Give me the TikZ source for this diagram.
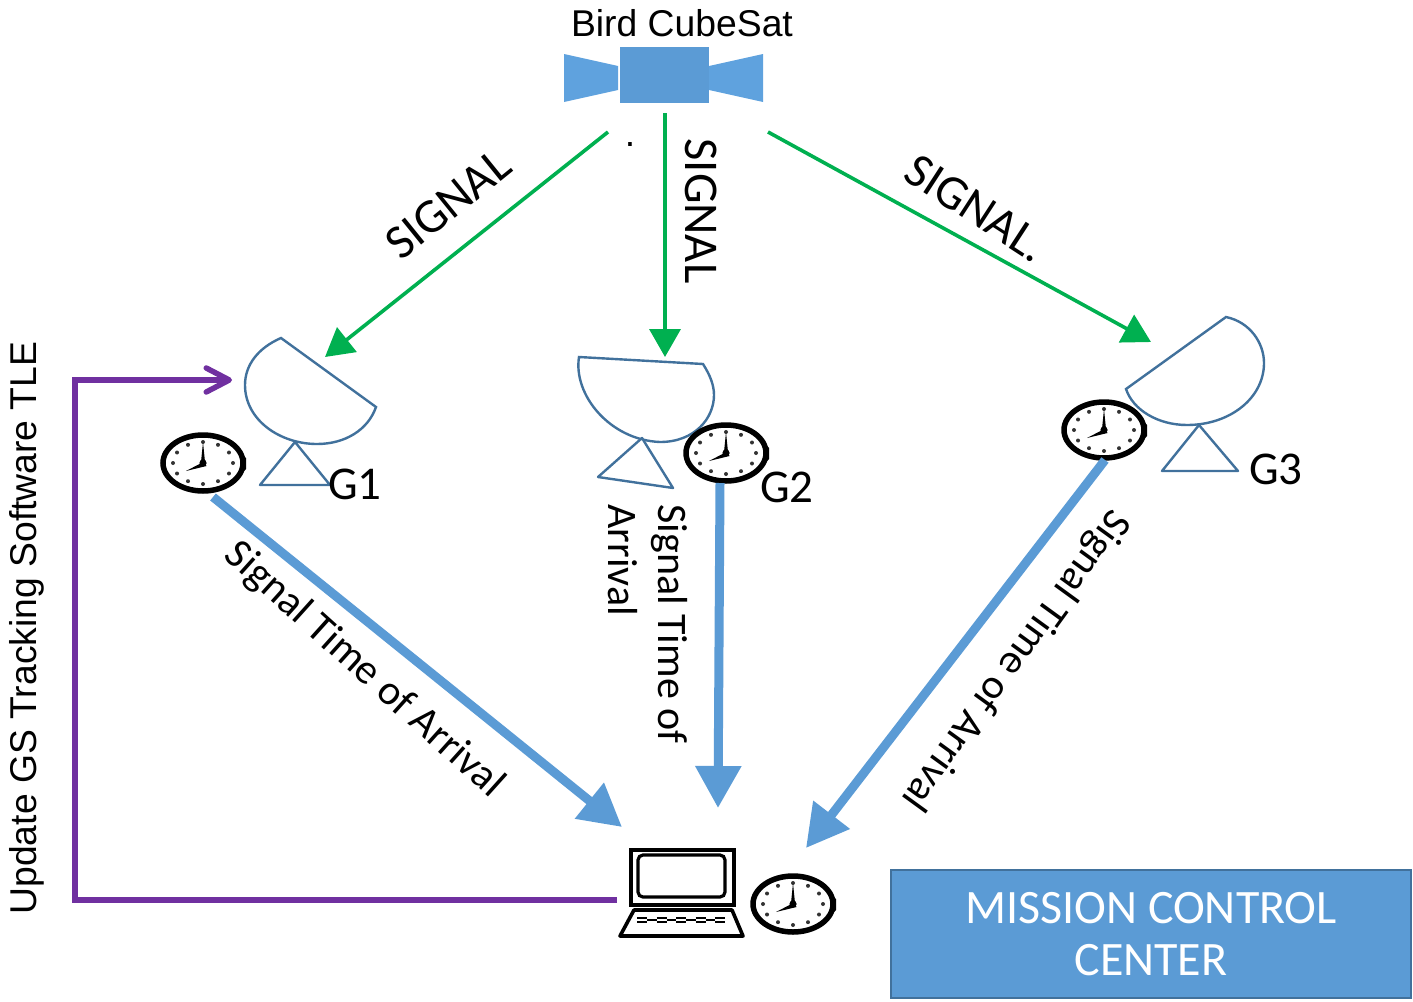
\documentclass[tikz,border=0pt]{standalone}
\usepackage{fontspec}
\setmainfont{Liberation Sans}
\newfontfamily\carl{Carlito}
\usetikzlibrary{arrows.meta}
\definecolor{sigblue}{HTML}{5B9BD5}
\definecolor{wingblue}{HTML}{5FA2DE}
\definecolor{dishblue}{HTML}{41719C}
\definecolor{siggreen}{HTML}{00B050}
\definecolor{updpurple}{HTML}{7030A0}
\tikzset{
  x=1pt,y=-1pt,
  dish/.style={draw=dishblue,line width=2.4pt,fill=white,line join=miter},
  greenarrow/.style={draw=siggreen,line width=3.6pt,-{Triangle[length=28pt,width=31pt]}},
  bluearrow/.style={draw=sigblue,line width=9pt,-{Triangle[length=42pt,width=44pt]}},
  purplearrow/.style={draw=updpurple,line width=5.5pt,line join=miter,-{Straight Barb[length=23pt,width=24pt,round]}},
  arial/.style={font=\fontsize{37.3}{42}\selectfont,text=black,inner sep=0pt},
  toa/.style={font=\carl\fontsize{42}{50}\selectfont,text=black,inner sep=0pt},
  calib/.style={font=\carl\fontsize{47}{50}\selectfont,text=black,inner sep=0pt},
  siglab/.style={font=\carl\fontsize{48.5}{50}\selectfont,text=black,inner sep=0pt},
  clock/.pic={
    \fill[white] (0,0) ellipse [x radius=42,y radius=30];
    \draw[black,line width=5.5pt] (0,0) ellipse [x radius=40,y radius=28];
    \fill[black] (40,-8) -- (43,-5) -- (43,6) -- (40,9) -- cycle;
    \foreach \a in {0,30,...,330}
      \fill[black!80] ({30*cos(\a)},{21*sin(\a)}) circle (2);
    \fill[black] (-2.2,1) -- (0,-21) -- (2.2,1) -- (3.5,3) -- (-17,8) -- (-3.5,1) -- cycle;
    \fill[black] (0,0) circle (3.6);
  },
  laptop/.pic={
    \draw[black,line width=4pt] (-50,-54) rectangle (53,1);
    \draw[black,line width=3.2pt,rounded corners=5pt] (-43,-49) rectangle (44,-7);
    \draw[black,line width=3.6pt,line join=round] (-47,6) -- (51,6) -- (62,32) -- (-61,32) -- cycle;
    \foreach \k in {-44,-24.5,-5,14.5,34}{
      \draw[black,line width=2pt] (\k,14) -- (\k+10,14) (\k,18) -- (\k+10,18);
    }
    \draw[black,line width=2pt] (-34,16) -- (-24.5,16) (-14.5,16) -- (-5,16) (5,16) -- (14.5,16) (24.5,16) -- (34,16);
  }
}
\begin{document}
\begin{tikzpicture}
\useasboundingbox (0,0) rectangle (1413,1001);
% satellite
\fill[wingblue] (564,54) -- (618,66) -- (618,90) -- (564,102) -- cycle;
\fill[wingblue] (709,66) -- (763,54) -- (763,102) -- (709,90) -- cycle;
\node[fill=sigblue,minimum width=89pt,minimum height=56pt,inner sep=0pt,anchor=north west] (sat) at (620,47) {};
\node[arial] (satlabel) at (682,23) {Bird CubeSat};
\node[arial] (dot) at (630,145) {.};
% dishes
\draw[dish] (281,338) .. controls (258,348) and (245,365) .. (245,385) .. controls (245,420) and (280,444) .. (317,444) .. controls (345,444) and (368,430) .. (376,407) -- cycle;
\draw[dish,line join=round] (295,442) -- (260,485) -- (330,485) -- cycle;
\draw[dish] (579,357) .. controls (573,395) and (610,440) .. (660,442) .. controls (695,442) and (714,418) .. (714,395) .. controls (714,385) and (710,375) .. (703,364) -- cycle;
\draw[dish,line join=round] (642,438) -- (598,477) -- (673,488) -- cycle;
\draw[dish] (1226,317) .. controls (1250,322) and (1264,343) .. (1264,363) .. controls (1264,398) and (1230,425) .. (1187,425) .. controls (1158,425) and (1133,410) .. (1126,389) -- cycle;
\draw[dish,line join=round] (1199,425) -- (1162,471) -- (1238,471) -- cycle;
% clocks
\pic at (203,463) {clock};
\pic at (726,453) {clock};
\pic at (1104,430) {clock};
\pic at (793,904) {clock};
\pic at (681,904) {laptop};
% anchors
\coordinate (g1s) at (608,132); \coordinate (g1e) at (325,357);
\coordinate (g2s) at (665,113); \coordinate (g2e) at (665,357);
\coordinate (g3s) at (768,132); \coordinate (g3e) at (1151,342);
\coordinate (b1s) at (213,497); \coordinate (b1e) at (622,827);
\coordinate (b2s) at (720,483); \coordinate (b2e) at (718,808);
\coordinate (b3s) at (1105,460); \coordinate (b3e) at (806,848);
\coordinate (ps) at (617,900); \coordinate (pc1) at (75,900); \coordinate (pc2) at (75,380); \coordinate (pe) at (232,380);
\draw[greenarrow] (g1s) -- (g1e);
\draw[greenarrow] (g2s) -- (g2e);
\draw[greenarrow] (g3s) -- (g3e);
\draw[bluearrow] (b1s) -- (b1e);
\draw[bluearrow] (b2s) -- (b2e);
\draw[bluearrow] (b3s) -- (b3e);
\draw[purplearrow] (ps) -- (pc1) -- (pc2) -- (pe);
% labels
\node[siglab,rotate=39] (s1) at (448,204) {SIGNAL};
\node[siglab,rotate=-90] (s2) at (701,211) {SIGNAL};
\node[siglab,rotate=-33] (s3) at (976,208) {SIGNAL.};
\node[calib] (g1) at (355,484) {G1};
\node[calib] (g2) at (787,487) {G2};
\node[calib] (g3) at (1276,469) {G3};
\node[toa,rotate=-42] (t1) at (364,670) {Signal Time of Arrival};
\node[toa,rotate=-90,align=left] (t2) at (648,624) {Signal Time of\\Arrival};
\node[toa,rotate=-126] (t3) at (1015,660) {Signal Time of Arrival};
\node[arial,rotate=90] (upd) at (27,628) {Update GS Tracking Software TLE};
\node[draw=dishblue,line width=2.5pt,fill=sigblue,text=white,align=center,font=\carl\fontsize{48}{52}\selectfont,minimum width=520pt,minimum height=128pt,inner sep=0pt] (mcc) at (1151,934) {MISSION CONTROL\\CENTER};
\end{tikzpicture}
\end{document}
